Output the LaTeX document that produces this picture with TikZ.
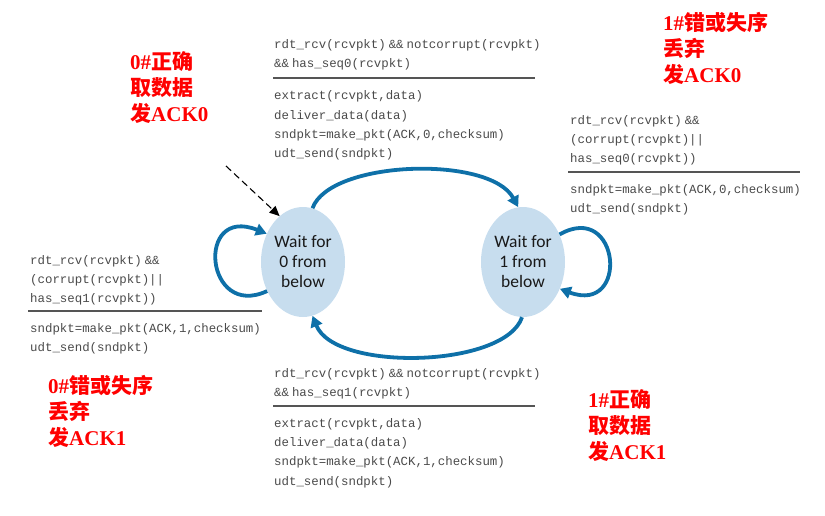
\documentclass[tikz,border=0pt]{standalone}
\usepackage{fontspec}
\setmainfont{Liberation Serif}
\setmonofont{Liberation Mono}[WordSpace=0.4]
\setsansfont{Carlito}
\newfontfamily\cjkfont{Noto Sans CJK SC}
\newcommand{\hanzi}[1]{{\cjkfont\bfseries #1}}
\usetikzlibrary{arrows.meta,shapes.geometric}
\definecolor{fsmblue}{HTML}{0E70A8}
\definecolor{statefill}{HTML}{C7DDEE}
\definecolor{codegray}{HTML}{4A4A4A}
\definecolor{rulegray}{HTML}{555555}
\tikzset{
  statenode/.style={ellipse,fill=statefill,minimum width=84pt,minimum height=110pt,inner sep=0pt,
    align=center,font=\sffamily\fontsize{17.5}{20}\selectfont,text=black!90},
  codeblock/.style={anchor=west,inner sep=0pt,align=left,text=codegray,
    font=\ttfamily\fontsize{12.4}{19.2}\selectfont},
  rulebar/.style={draw=rulegray,line width=1.4pt},
  transarrow/.style={draw=fsmblue,line width=3.8pt,-{Triangle[length=11pt,width=12pt]}},
  note/.style={anchor=west,inner sep=0pt,align=left,text=red,
    font=\bfseries\fontsize{21}{26}\selectfont}
}
\begin{document}
\begin{tikzpicture}[x=1pt,y=-1pt]
\useasboundingbox (0,0) rectangle (825,515);

% states
\node[statenode] (s0) at (303,262) {Wait for\\0 from\\below};
\node[statenode] (s1) at (523,262) {Wait for\\1 from\\below};

% transitions
\draw[transarrow] (s0.80) .. controls (330,160) and (490,155) .. (s1.95);
\draw[transarrow] (s1.-91) .. controls (505,368) and (335,372) .. (s0.-80);
\draw[transarrow] (s0.219) .. controls (205,320) and (195,205) .. (s0.142);
\draw[transarrow] (s1.37) .. controls (620,200) and (630,315) .. (s1.-36);

% initial arrow
\coordinate (init) at (226,166);
\draw[line width=1.1pt,dash pattern=on 7pt off 4pt,-{Triangle[length=10pt,width=9pt]}] (init) -- (s0.117);

% top transition label
\node[codeblock] (c01) at (274,55) {rdt\_rcv(rcvpkt) \&\& notcorrupt(rcvpkt)\\\&\& has\_seq0(rcvpkt)};
\draw[rulebar] (273,78) -- (535,78);
\node[codeblock] (a01) at (274,125.5) {extract(rcvpkt,data)\\deliver\_data(data)\\sndpkt=make\_pkt(ACK,0,checksum)\\udt\_send(sndpkt)};

% right self loop label
\node[codeblock] (c11) at (570,140) {rdt\_rcv(rcvpkt) \&\&\\(corrupt(rcvpkt)||\\has\_seq0(rcvpkt))};
\draw[rulebar] (568,172) -- (800,172);
\node[codeblock] (a11) at (570,199.5) {sndpkt=make\_pkt(ACK,0,checksum)\\udt\_send(sndpkt)};

% left self loop label
\node[codeblock] (c00) at (30,280) {rdt\_rcv(rcvpkt) \&\&\\(corrupt(rcvpkt)||\\has\_seq1(rcvpkt))};
\draw[rulebar] (28,311) -- (262,311);
\node[codeblock] (a00) at (30,338.5) {sndpkt=make\_pkt(ACK,1,checksum)\\udt\_send(sndpkt)};

% bottom transition label
\node[codeblock] (c10) at (274,384) {rdt\_rcv(rcvpkt) \&\& notcorrupt(rcvpkt)\\\&\& has\_seq1(rcvpkt)};
\draw[rulebar] (273,406) -- (535,406);
\node[codeblock] (a10) at (274,453) {extract(rcvpkt,data)\\deliver\_data(data)\\sndpkt=make\_pkt(ACK,1,checksum)\\udt\_send(sndpkt)};

% red notes
\node[note] (n1) at (130,88) {0\#\hanzi{正确}\\\hanzi{取数据}\\\hanzi{发}ACK0};
\node[note] (n2) at (663,48) {1\#\hanzi{错或失序}\\\hanzi{丢弃}\\\hanzi{发}ACK0};
\node[note] (n3) at (48,411) {0\#\hanzi{错或失序}\\\hanzi{丢弃}\\\hanzi{发}ACK1};
\node[note] (n4) at (588,426) {1\#\hanzi{正确}\\\hanzi{取数据}\\\hanzi{发}ACK1};
\end{tikzpicture}
\end{document}
